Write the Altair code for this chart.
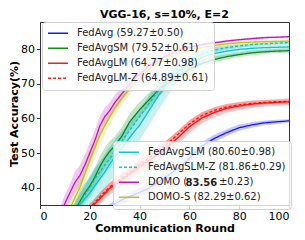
import altair as alt
import pandas as pd

rounds = [5, 10, 12, 14, 16, 18, 20, 22, 24, 26, 28, 30, 33, 36, 40, 44, 48, 52, 56, 60, 65, 70, 75, 80, 85, 90, 95, 100]

names_a = ["FedAvg (59.27±0.50)", "FedAvgSM (79.52±0.61)", "FedAvgLM (64.77±0.98)", "FedAvgLM-Z (64.89±0.61)"]
names_b = ["FedAvgSLM (80.60±0.98)", "FedAvgSLM-Z (81.86±0.29)", "DOMO (83.56±0.23)", "DOMO-S (82.29±0.62)"]
bold_value = ["83.56"]
colors_a = ["#0000ff", "#008000", "#ff0000", "#ff0000"]
colors_b = ["#00bfbf", "#00bfbf", "#bf00bf", "#bfbf00"]
dash_a = [[1, 0], [1, 0], [1, 0], [3, 2]]
dash_b = [[1, 0], [3, 2], [1, 0], [1, 0]]

fedavg = [18, 22, 23.5, 25, 26.5, 28, 29.3, 30.5, 31.8, 33, 34.2, 35.3, 36.5, 37.5, 38.6, 40, 41.8, 43.8, 46, 48.5, 52, 54.2, 55.9, 57.3, 58.1, 58.7, 59.0, 59.27]
fedavgsm = [22, 29, 31, 33.5, 36, 38.5, 40.5, 43, 46, 48.5, 50.5, 52, 55, 59, 62.5, 65.5, 68.5, 70.5, 72.3, 74.2, 75.8, 77, 77.8, 78.4, 78.9, 79.2, 79.4, 79.52]
fedavglm = [20, 25.5, 27, 28.5, 30, 32, 33.8, 35.3, 36.8, 38.3, 39.8, 40.8, 42.3, 44, 46, 48, 50, 52.2, 54.8, 57.6, 60.1, 61.7, 62.9, 63.6, 64.1, 64.4, 64.6, 64.77]
fedavglmz = [20.3, 26, 27.5, 29, 30.5, 32.5, 34.2, 35.8, 37.3, 38.8, 40.2, 41.2, 42.8, 44.5, 46.6, 48.7, 50.8, 53.2, 55.8, 58.4, 60.8, 62.3, 63.3, 63.9, 64.3, 64.6, 64.8, 64.89]
fedavgslm = [21, 28, 30, 32.5, 35.2, 36.8, 38.5, 40.5, 42.5, 44.5, 46.8, 48.8, 51.5, 54.5, 58, 62.5, 67, 70.8, 73.8, 75.8, 77.6, 78.7, 79.4, 79.9, 80.2, 80.4, 80.5, 80.6]
fedavgslmz = [21.5, 28.5, 31, 33.5, 35.8, 38, 40, 42.5, 44.5, 46.5, 48.5, 50.5, 53.5, 56.5, 60.5, 64.5, 68.5, 72, 74.8, 76.8, 78.6, 79.7, 80.4, 80.9, 81.3, 81.5, 81.7, 81.86]
domo = [26, 35.5, 38.5, 41.5, 43.5, 46.5, 50, 53.5, 57.8, 60.5, 62.2, 64.5, 67.2, 69.8, 72.8, 75.2, 77, 78.5, 79.8, 80.5, 81.3, 81.8, 82.3, 82.7, 83.0, 83.3, 83.4, 83.56]
domos = [23, 31.5, 34, 37, 40, 44, 48, 51.5, 55, 57.8, 60.5, 62.8, 66, 68.5, 71.8, 74.3, 76.3, 77.6, 78.7, 79.6, 80.4, 81, 81.5, 81.8, 82.0, 82.1, 82.2, 82.29]

spread_fedavg = [1, 1, 1, 1, 1, 1, 1, 1, 1, 1, 1.1, 1.1, 1.2, 1.2, 1.3, 1.3, 1.4, 1.4, 1.4, 1.3, 1.2, 1.1, 1.0, 0.9, 0.8, 0.7, 0.6, 0.5]
spread_fedavgsm = [2, 2, 2, 2, 2.2, 2.4, 2.6, 2.8, 3, 3, 3, 2.8, 2.6, 2.4, 2.2, 2, 1.8, 1.6, 1.4, 1.2, 1.0, 0.9, 0.8, 0.7, 0.7, 0.6, 0.6, 0.6]
spread_fedavglm = [1.5, 1.5, 1.5, 1.5, 1.5, 1.5, 1.6, 1.6, 1.7, 1.7, 1.8, 1.8, 1.9, 1.9, 2, 2, 2, 2, 1.9, 1.8, 1.6, 1.4, 1.3, 1.2, 1.1, 1.0, 1.0, 1.0]
spread_fedavglmz = [1, 1, 1, 1, 1, 1, 1.1, 1.1, 1.2, 1.2, 1.2, 1.2, 1.3, 1.3, 1.3, 1.3, 1.3, 1.3, 1.2, 1.1, 1.0, 0.9, 0.8, 0.7, 0.7, 0.6, 0.6, 0.6]
spread_fedavgslm = [3, 3, 3, 3.5, 4, 4.5, 5, 5, 5, 5, 5, 5, 4.8, 4.6, 4.4, 4.2, 4, 3.5, 3, 2.5, 2, 1.8, 1.5, 1.3, 1.2, 1.1, 1.0, 1.0]
spread_fedavgslmz = [2, 2, 2, 2.2, 2.4, 2.6, 2.8, 3, 3, 3, 3, 3, 2.8, 2.6, 2.4, 2.2, 2, 1.8, 1.5, 1.2, 1.0, 0.8, 0.6, 0.5, 0.4, 0.3, 0.3, 0.3]
spread_domo = [2.5, 2.5, 2.5, 3, 3, 3, 3, 3, 2.8, 2.6, 2.4, 2.2, 2, 1.8, 1.5, 1.2, 1, 0.8, 0.6, 0.5, 0.4, 0.3, 0.3, 0.3, 0.3, 0.3, 0.3, 0.25]
spread_domos = [2.5, 2.5, 2.5, 2.8, 3, 3, 3, 3, 2.8, 2.6, 2.4, 2.2, 2, 1.8, 1.6, 1.4, 1.2, 1, 0.9, 0.8, 0.7, 0.7, 0.6, 0.6, 0.6, 0.6, 0.6, 0.6]

series = {
    names_a[0]: (fedavg, spread_fedavg),
    names_a[1]: (fedavgsm, spread_fedavgsm),
    names_a[2]: (fedavglm, spread_fedavglm),
    names_a[3]: (fedavglmz, spread_fedavglmz),
    names_b[0]: (fedavgslm, spread_fedavgslm),
    names_b[1]: (fedavgslmz, spread_fedavgslmz),
    names_b[2]: (domo, spread_domo),
    names_b[3]: (domos, spread_domos),
}

rows = []
for name, (vals, spr) in series.items():
    for r, v, s in zip(rounds, vals, spr):
        rows.append({"series": name, "round": r, "acc": v, "lo": v - s, "hi": v + s})
df = pd.DataFrame(rows)

x_enc = alt.X("round:Q", scale=alt.Scale(domain=[0, 100], nice=False),
              axis=alt.Axis(values=[0, 20, 40, 60, 80, 100], title="Communication Round"))
y_scale = alt.Scale(domain=[35, 87.8], nice=False, zero=False)
y_axis = alt.Axis(values=[40, 50, 60, 70, 80], title="Test Accuracy(%)")
y_enc = alt.Y("acc:Q", scale=y_scale, axis=y_axis)

all_names = names_a + names_b
all_colors = colors_a + colors_b

bands = alt.Chart(df).mark_area(opacity=0.22, clip=True).encode(
    x=x_enc,
    y=alt.Y("lo:Q", scale=y_scale, axis=y_axis),
    y2="hi:Q",
    fill=alt.Fill("series:N", scale=alt.Scale(domain=all_names, range=all_colors), legend=None),
    detail="series:N",
)

# DOMO's value is shown in bold: the legend keeps a gap that a bold label fills
gap = "\u00a0" * 10
label_expr = f"datum.label == '{names_b[2]}' ? 'DOMO ({gap}±0.23)' : datum.label"


def legend(lx, ly):
    return alt.Legend(
        title=None, orient="none", legendX=lx, legendY=ly,
        symbolType="stroke", symbolSize=400, symbolStrokeWidth=1.5,
        labelFontSize=10, labelFont="DejaVu Sans", labelColor="#222",
        labelOffset=8, rowPadding=2, padding=5, clipHeight=12.5,
        strokeColor="#d0d0d0", fillColor="rgba(255,255,255,0.8)", cornerRadius=3,
        labelLimit=300, labelExpr=label_expr,
    )


def lines(sub_names, colors, dashes, lx, ly):
    sub = df[df["series"].isin(sub_names)]
    return alt.Chart(sub).mark_line(strokeWidth=1.3, opacity=0.9, clip=True).encode(
        x=x_enc,
        y=y_enc,
        color=alt.Color("series:N", scale=alt.Scale(domain=sub_names, range=colors), legend=legend(lx, ly)),
        strokeDash=alt.StrokeDash("series:N", scale=alt.Scale(domain=sub_names, range=dashes), legend=legend(lx, ly)),
    )


lines_a = lines(names_a, colors_a, dash_a, 2, 0)
lines_b = lines(names_b, colors_b, dash_b, 73, 119)

bold_label = alt.Chart(pd.DataFrame({"t": bold_value})).mark_point(size=0, opacity=0).encode(
    x=alt.value(0), y=alt.value(0),
    shape=alt.Shape("t:N", legend=alt.Legend(
        title=None, orient="none", legendX=135.5, legendY=154.25,
        symbolSize=0, symbolOpacity=0, symbolStrokeWidth=0, labelOffset=0, padding=0,
        clipHeight=12.5, labelFontSize=10, labelFont="DejaVu Sans", labelFontWeight="bold",
        labelColor="#222", zindex=2,
    )),
)

chart = alt.layer(bands, lines_a, lines_b, bold_label).resolve_scale(
    color="independent", strokeDash="independent"
).properties(
    width=249, height=183,
    title=alt.TitleParams("VGG-16, s=10%, E=2", fontSize=11, fontWeight="bold",
                          font="DejaVu Sans", anchor="middle", offset=2, color="black"),
    autosize=alt.AutoSizeParams(type="none"),
    padding={"left": 32, "top": 14, "right": 8, "bottom": 32},
).configure_axis(
    grid=False, domainColor="#333", tickColor="#333", tickSize=3.5,
    labelFontSize=11, labelFont="DejaVu Sans", labelColor="black", labelPadding=2,
    titleFontSize=11, titleFont="DejaVu Sans", titleFontWeight="bold", titleColor="black",
).configure_axisY(titlePadding=1).configure_axisX(titlePadding=1).configure_view(
    stroke="#333", strokeWidth=1
)

chart.save("out.html", embed_options={"renderer": "svg", "actions": False})
